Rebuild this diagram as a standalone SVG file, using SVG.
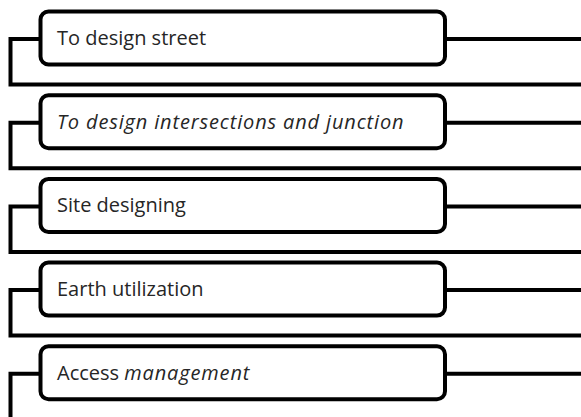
<svg xmlns="http://www.w3.org/2000/svg" width="581" height="417" viewBox="0 0 581 417">
  <style>
    .box { fill: #ffffff; stroke: #000000; stroke-width: 4; }
    .wire { fill: none; stroke: #000000; stroke-width: 4; stroke-linejoin: miter; stroke-linecap: butt; }
    .label { font-family: "Open Sans", "Liberation Sans", sans-serif; font-size: 20px; fill: #262626; }
    .it { font-style: italic; letter-spacing: 0.85px; }
  </style>
  <rect width="581" height="417" fill="#ffffff"/>
  <g id="connectors">
    <path class="wire" d="M40.5 39 H10.5 V84.5 H581 M445 39 H581"/>
    <path class="wire" d="M40.5 122.7 H10.5 V168.2 H581 M445 122.7 H581"/>
    <path class="wire" d="M40.5 206.4 H10.5 V251.9 H581 M445 206.4 H581"/>
    <path class="wire" d="M40.5 290.1 H10.5 V335.6 H581 M445 290.1 H581"/>
    <path class="wire" d="M40.5 373.8 H10.5 V420 M445 373.8 H581"/>
  </g>
  <g id="node1">
    <rect class="box" x="40.5" y="11.5" width="404.5" height="53" rx="8"/>
    <text class="label" x="57" y="45">To design street</text>
  </g>
  <g id="node2">
    <rect class="box" x="40.5" y="95.2" width="404.5" height="53" rx="8"/>
    <text class="label it" x="57" y="128.7">To design intersections and junction</text>
  </g>
  <g id="node3">
    <rect class="box" x="40.5" y="178.9" width="404.5" height="53" rx="8"/>
    <text class="label" x="57" y="212.4">Site designing</text>
  </g>
  <g id="node4">
    <rect class="box" x="40.5" y="262.6" width="404.5" height="53" rx="8"/>
    <text class="label" x="57" y="296.1">Earth utilization</text>
  </g>
  <g id="node5">
    <rect class="box" x="40.5" y="346.3" width="404.5" height="53" rx="8"/>
    <text class="label" x="57" y="379.8">Access <tspan class="it">management</tspan></text>
  </g>
</svg>
